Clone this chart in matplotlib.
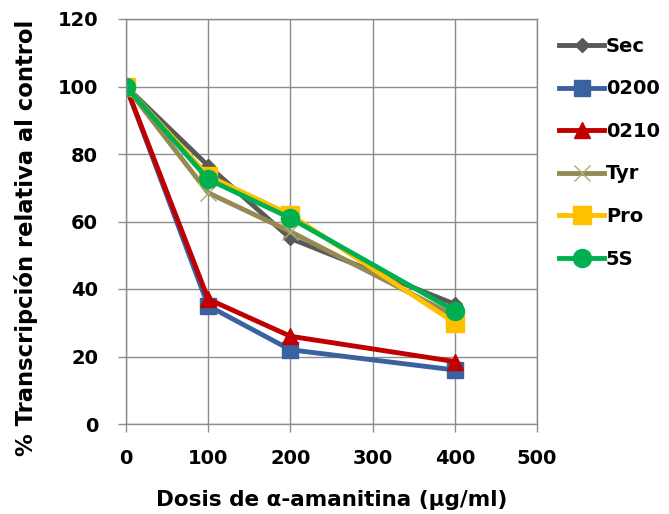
import matplotlib
matplotlib.use("Agg")
import matplotlib.pyplot as plt

dose = [0, 100, 200, 400]
series_names = ["Sec", "0200", "0210", "Tyr", "Pro", "5S"]
sec = [100, 76.5, 55, 35.5]
s0200 = [100, 35, 22, 16]
s0210 = [100, 37, 26, 18.5]
tyr = [100, 68.5, 57, 32]
pro = [100, 73.5, 62, 30]
s5s = [100, 72.5, 61, 33.5]
xticks = [0, 100, 200, 300, 400, 500]
yticks = [0, 20, 40, 60, 80, 100, 120]

plt.rcParams['font.family'] = ['DejaVu Sans']
fig = plt.figure(figsize=(6.69, 5.14), dpi=100)
ax = fig.add_axes([126/669, 1-424/514, (537-126)/669, (424-19)/514])

styles = [
    (sec, dict(color="#595959", marker="D", markersize=7)),
    (s0200, dict(color="#3a62a0", marker="s", markersize=11)),
    (s0210, dict(color="#c00000", marker="^", markersize=12)),
    (tyr, dict(color="#948a54", marker="x", markersize=11, markeredgewidth=1, markeredgecolor="#b0a878")),
    (pro, dict(color="#ffc000", marker="s", markersize=13)),
    (s5s, dict(color="#00b050", marker="o", markersize=13)),
]
for (vals, st), name in zip(styles, series_names):
    ax.plot(dose, vals, linewidth=3.5, label=name, **st)

ax.set_xlim(0, 500)
ax.set_ylim(0, 120)
ax.set_xticks(xticks)
ax.set_yticks(yticks)
ax.grid(True, color="#8c8c8c", linewidth=1)
ax.set_axisbelow(True)
for s in ax.spines.values():
    s.set_color("#8c8c8c")
    s.set_linewidth(1)
ax.tick_params(axis='both', length=6, color="#8c8c8c", width=1, labelsize=14)
ax.tick_params(axis='x', pad=12)
ax.tick_params(axis='y', pad=14)
for lab in ax.get_xticklabels() + ax.get_yticklabels():
    lab.set_fontweight('bold')
ax.set_xlabel("Dosis de α-amanitina (µg/ml)", fontsize=15.5, fontweight='bold', labelpad=16)
ax.set_ylabel("% Transcripción relativa al control", fontsize=16.3, fontweight='bold')
ax.yaxis.set_label_coords(-0.215, 0.46)

leg = ax.legend(loc='upper left', bbox_to_anchor=(1.035, 0.975), frameon=False,
                fontsize=14, handlelength=2.3, handletextpad=0.1, labelspacing=1.21,
                borderaxespad=0)
for t in leg.get_texts():
    t.set_fontweight('bold')

fig.savefig("out.png", dpi=100)
